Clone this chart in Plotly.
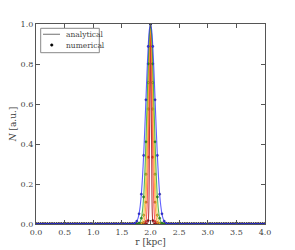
import plotly.graph_objects as go

# analytical curves: r grid near the peak (plus the flat ends)
r_fine = [0.0, 1.70, 1.72, 1.74, 1.76, 1.78, 1.80, 1.82, 1.84, 1.86, 1.88, 1.90, 1.92, 1.94, 1.96, 1.98,
          2.00, 2.02, 2.04, 2.06, 2.08, 2.10, 2.12, 2.14, 2.16, 2.18, 2.20, 2.22, 2.24, 2.26, 2.28, 2.30, 4.0]

blue_an = [0, 0.001, 0.003, 0.007, 0.014, 0.027, 0.051, 0.090, 0.149, 0.233, 0.343, 0.475, 0.621, 0.765, 0.888, 0.971,
           1.0, 0.971, 0.888, 0.765, 0.621, 0.475, 0.343, 0.233, 0.149, 0.090, 0.051, 0.027, 0.014, 0.007, 0.003, 0.001, 0]
green_an = [0, 0, 0, 0, 0, 0.001, 0.004, 0.011, 0.029, 0.066, 0.135, 0.249, 0.411, 0.607, 0.801, 0.946,
            1.0, 0.946, 0.801, 0.607, 0.411, 0.249, 0.135, 0.066, 0.029, 0.011, 0.004, 0.001, 0, 0, 0, 0, 0]
yellow_an = [0, 0, 0, 0, 0, 0, 0, 0.001, 0.004, 0.014, 0.044, 0.114, 0.249, 0.458, 0.707, 0.917,
             1.0, 0.917, 0.707, 0.458, 0.249, 0.114, 0.044, 0.014, 0.004, 0.001, 0, 0, 0, 0, 0, 0, 0]
orange_an = [0, 0, 0, 0, 0, 0, 0, 0, 0, 0.001, 0.007, 0.031, 0.109, 0.287, 0.575, 0.871,
             1.0, 0.871, 0.575, 0.287, 0.109, 0.031, 0.007, 0.001, 0, 0, 0, 0, 0, 0, 0, 0, 0]
red_an = [0, 0, 0, 0, 0, 0, 0, 0, 0, 0, 0, 0.001, 0.012, 0.085, 0.334, 0.760,
          1.0, 0.760, 0.334, 0.085, 0.012, 0.001, 0, 0, 0, 0, 0, 0, 0, 0, 0, 0, 0]
darkred_an = [0, 0, 0, 0, 0, 0, 0, 0, 0, 0, 0, 0, 0, 0, 0.017, 0.360,
              1.0, 0.360, 0.017, 0, 0, 0, 0, 0, 0, 0, 0, 0, 0, 0, 0, 0, 0]

# numerical points on a 0.04 kpc grid; values near the peak (r = 1.72 ... 2.28), zero elsewhere
r_num = [round(0.04 * i, 2) for i in range(101)]
blue_num_c = [0.003, 0.014, 0.051, 0.149, 0.343, 0.621, 0.888, 1.0, 0.888, 0.621, 0.343, 0.149, 0.051, 0.014, 0.003]
green_num_c = [0.0, 0.0, 0.004, 0.029, 0.135, 0.411, 0.801, 1.0, 0.801, 0.411, 0.135, 0.029, 0.004, 0.0, 0.0]
yellow_num_c = [0.0, 0.0, 0.001, 0.004, 0.044, 0.249, 0.707, 1.0, 0.707, 0.249, 0.044, 0.004, 0.001, 0.0, 0.0]
orange_num_c = [0.0, 0.0, 0.0, 0.001, 0.007, 0.109, 0.575, 1.0, 0.575, 0.109, 0.007, 0.001, 0.0, 0.0, 0.0]
red_num_c = [0.0, 0.0, 0.0, 0.0, 0.001, 0.012, 0.334, 1.0, 0.334, 0.012, 0.001, 0.0, 0.0, 0.0, 0.0]
darkred_num_c = [0.0, 0.0, 0.0, 0.0, 0.0, 0.0, 0.017, 1.0, 0.017, 0.0, 0.0, 0.0, 0.0, 0.0, 0.0]
zeros_left = [0.0] * 43   # r = 0.00 ... 1.68
zeros_right = [0.0] * 43  # r = 2.32 ... 4.00

colors = ['#a00000', '#ff2a2a', '#ff8c1a', '#f0c020', '#22a022', '#2a2aff']
series_an = [darkred_an, red_an, orange_an, yellow_an, green_an, blue_an]
series_num = [darkred_num_c, red_num_c, orange_num_c, yellow_num_c, green_num_c, blue_num_c]

x_ticks = [0.0, 0.5, 1.0, 1.5, 2.0, 2.5, 3.0, 3.5, 4.0]
y_ticks = [0.0, 0.2, 0.4, 0.6, 0.8, 1.0]
legend_labels = ['analytical', 'numerical']

FONT = 'DejaVu Serif'
GREY = '#444444'

fig = go.Figure()
for col, an, nc in zip(colors, series_an, series_num):
    fig.add_trace(go.Scatter(x=r_fine, y=an, mode='lines',
                             line=dict(color=col, width=1.1, shape='spline', smoothing=0.8),
                             opacity=0.75, showlegend=False, hoverinfo='skip'))
    fig.add_trace(go.Scatter(x=r_num, y=zeros_left + nc + zeros_right, mode='markers',
                             marker=dict(color=col, size=2.3, line=dict(width=0.3, color='#222222')),
                             showlegend=False, hoverinfo='skip'))

axis_common = dict(showgrid=False, zeroline=False, showline=True, linecolor='#555555', linewidth=1.2,
                   mirror='ticks', ticks='inside', ticklen=4, tickcolor='#555555', tickwidth=1,
                   automargin=False, tickfont=dict(family=FONT, size=8, color=GREY))
fig.update_xaxes(range=[0, 4], tickvals=x_ticks, ticktext=[f'{v:.1f}' for v in x_ticks],
                 title=dict(text='r [kpc]', font=dict(family=FONT, size=9, color=GREY), standoff=2),
                 **axis_common)
fig.update_yaxes(range=[0, 1], tickvals=y_ticks, ticktext=[f'{v:.1f}' for v in y_ticks],
                 title=dict(text='<i>N</i> [a.u.]', font=dict(family=FONT, size=9, color=GREY), standoff=2),
                 **axis_common)

# hand-drawn legend box (paper coordinates of the 229x200 plot area)
def px(x):
    return (x - 36) / 229.0

def py(y):
    return (224 - y) / 200.0

fig.add_shape(type='rect', xref='paper', yref='paper', x0=px(40.7), x1=px(99.3), y0=py(52.7), y1=py(28.3),
              line=dict(color='#888888', width=1), fillcolor='white', layer='above')
fig.add_shape(type='line', xref='paper', yref='paper', x0=px(43), x1=px(60), y0=py(34.3), y1=py(34.3),
              line=dict(color='#888888', width=1.2), layer='above')
fig.add_shape(type='circle', xref='paper', yref='paper', x0=px(50.5), x1=px(53), y0=py(46.3), y1=py(43.8),
              line=dict(color='black', width=0.5), fillcolor='black', layer='above')
for label, yy in zip(legend_labels, [34.3, 45]):
    fig.add_annotation(xref='paper', yref='paper', x=px(64), y=py(yy), text=label, showarrow=False,
                       xanchor='left', yanchor='middle', font=dict(family=FONT, size=7.5, color=GREY))

fig.update_layout(width=295, height=250, margin=dict(l=36, r=30, t=24, b=26),
                  plot_bgcolor='white', paper_bgcolor='white', showlegend=False)
fig.write_html('out.html', config={'displayModeBar': False},
               post_script="document.body.style.margin='0px';document.body.style.padding='0px';")
